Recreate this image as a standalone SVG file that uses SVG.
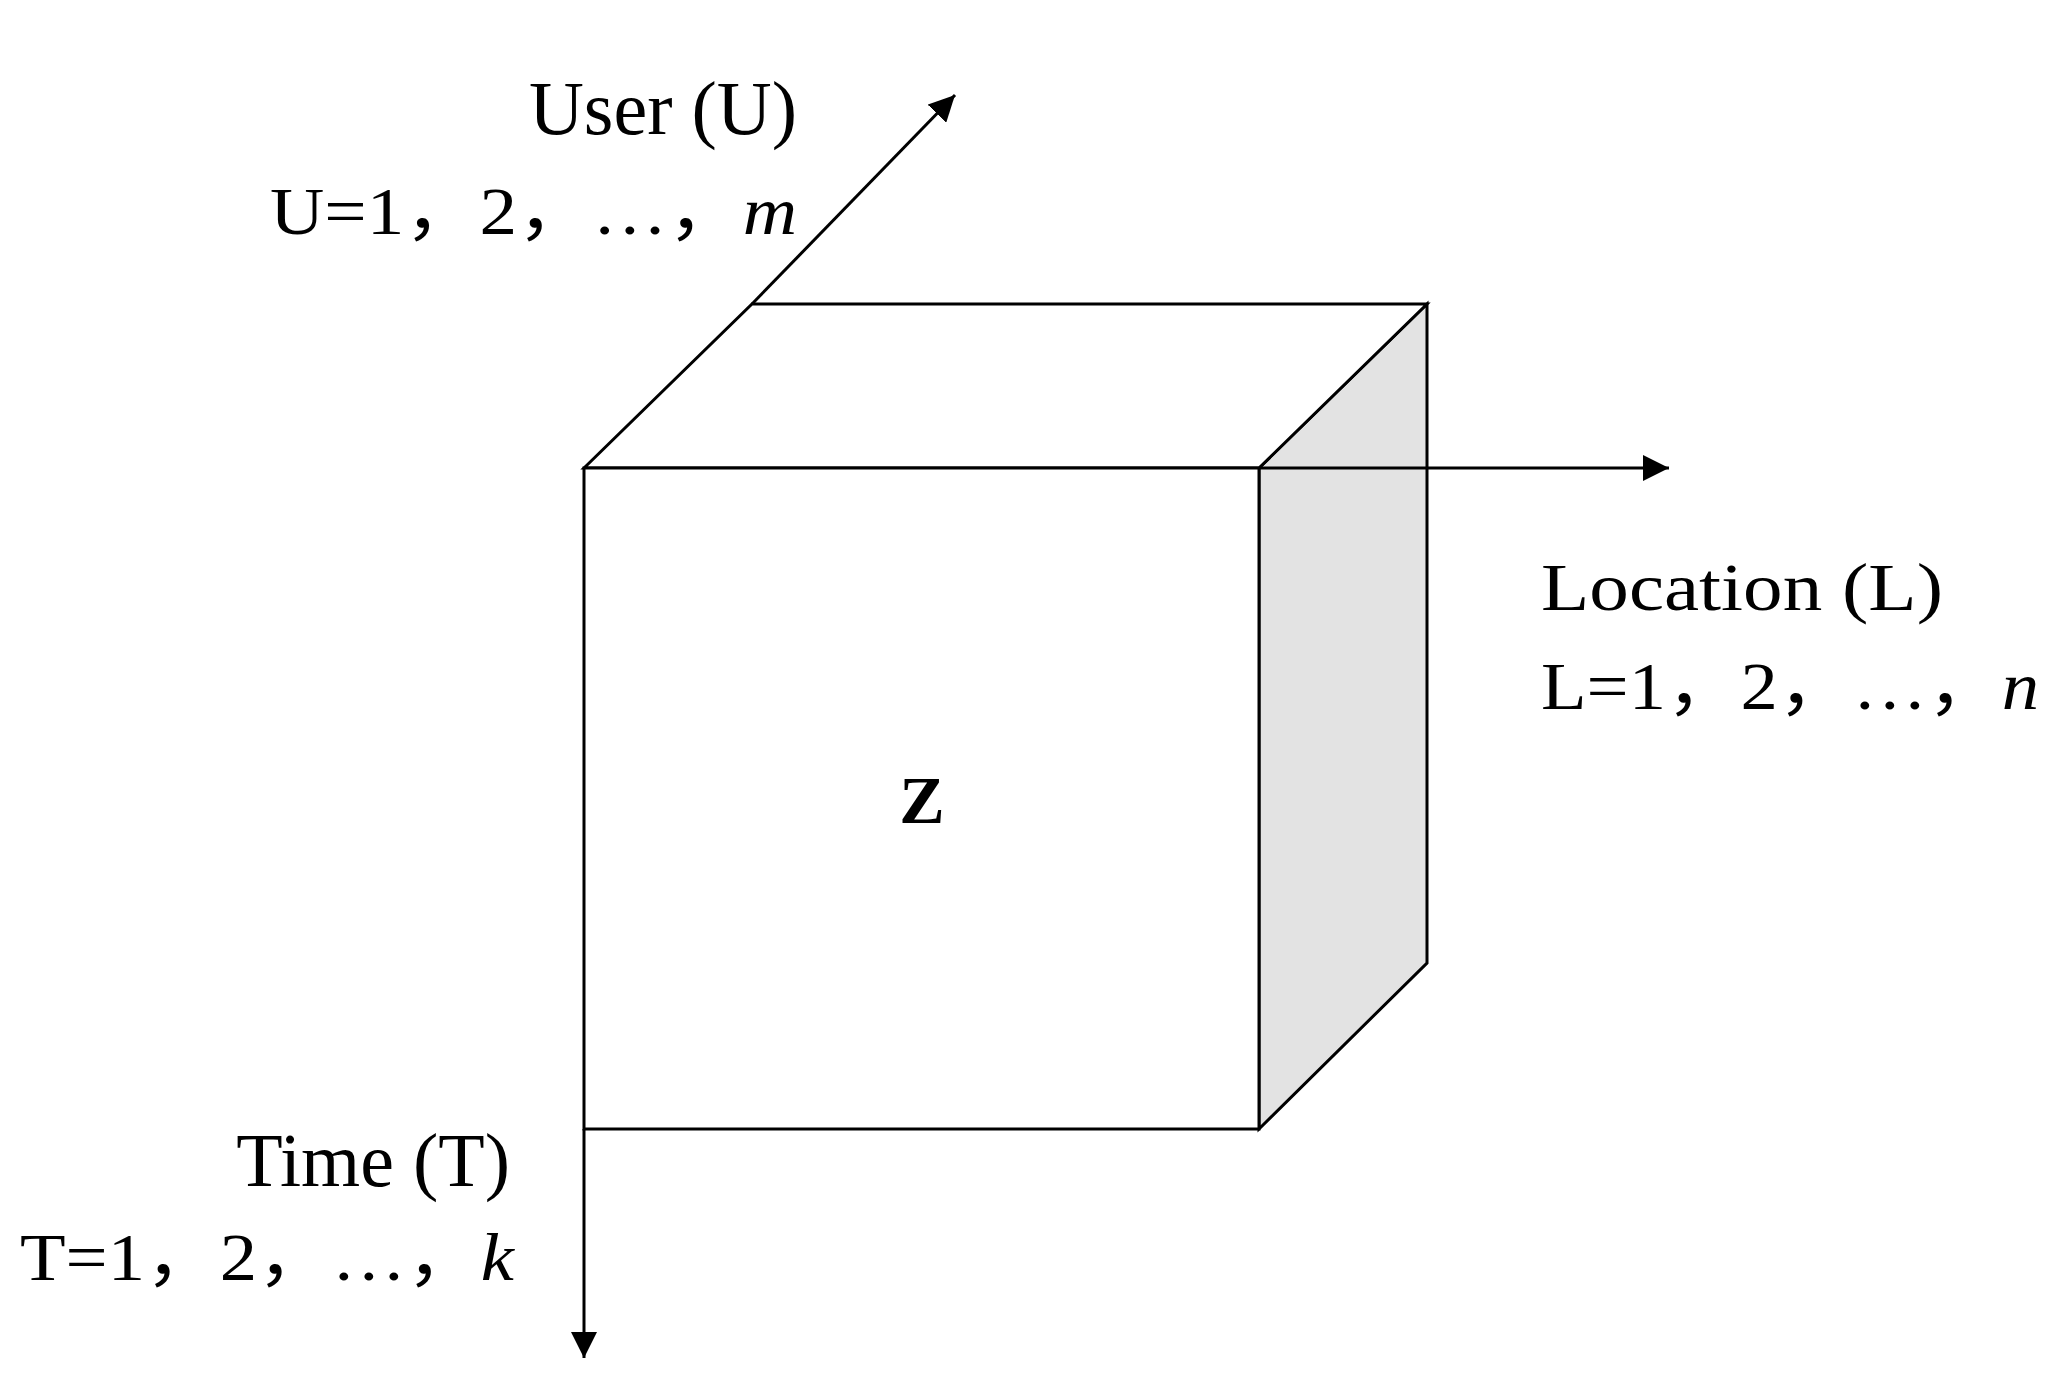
<svg xmlns="http://www.w3.org/2000/svg" width="2055" height="1396" viewBox="0 0 2055 1396">
<style>
.l{stroke:#000;stroke-width:3;fill:none}
.t{font-family:"Liberation Serif","Noto Sans CJK SC",serif;font-size:68px;fill:#000}
.big{font-size:76px}
</style>
<defs><marker id="b" viewBox="0 0 10 10" refX="10" refY="5" markerWidth="26" markerHeight="26" markerUnits="userSpaceOnUse" orient="auto"><path d="M0,0L10,5L0,10z" fill="#000"/></marker></defs>
<rect width="2055" height="1396" fill="#fff"/>
<g id="cube">
<polygon points="1259,468 1427,304 1427,963 1259,1129" class="l" style="fill:#e3e3e3"/>
<polygon points="584,468 752,304 1427,304 1259,468" class="l" style="fill:#fff"/>
<rect x="584" y="468" width="675" height="661" class="l" style="fill:#fff"/>
<text class="t" x="922" y="823" text-anchor="middle" font-weight="bold">Z</text>
</g>
<g id="connectors">
<line class="l" x1="752" y1="304" x2="955" y2="95" marker-end="url(#b)"/>
<line class="l" x1="1259" y1="468" x2="1669" y2="468" marker-end="url(#b)"/>
<line class="l" x1="584" y1="1129" x2="584" y2="1358" marker-end="url(#b)"/>
</g>
<g id="user">
<text class="t big" x="797" y="134" text-anchor="end">User (U)</text>
<text class="t" x="270" y="234" textLength="527" lengthAdjust="spacingAndGlyphs">U=1，2，…，<tspan font-style="italic">m</tspan></text>
</g>
<g id="location">
<text class="t" x="1541" y="610" textLength="402" lengthAdjust="spacingAndGlyphs">Location (L)</text>
<text class="t" x="1541" y="709" textLength="498" lengthAdjust="spacingAndGlyphs">L=1，2，…，<tspan font-style="italic">n</tspan></text>
</g>
<g id="time">
<text class="t big" x="510" y="1186" text-anchor="end">Time (T)</text>
<text class="t" x="20" y="1280" textLength="494" lengthAdjust="spacingAndGlyphs">T=1，2，…，<tspan font-style="italic">k</tspan></text>
</g>
</svg>
